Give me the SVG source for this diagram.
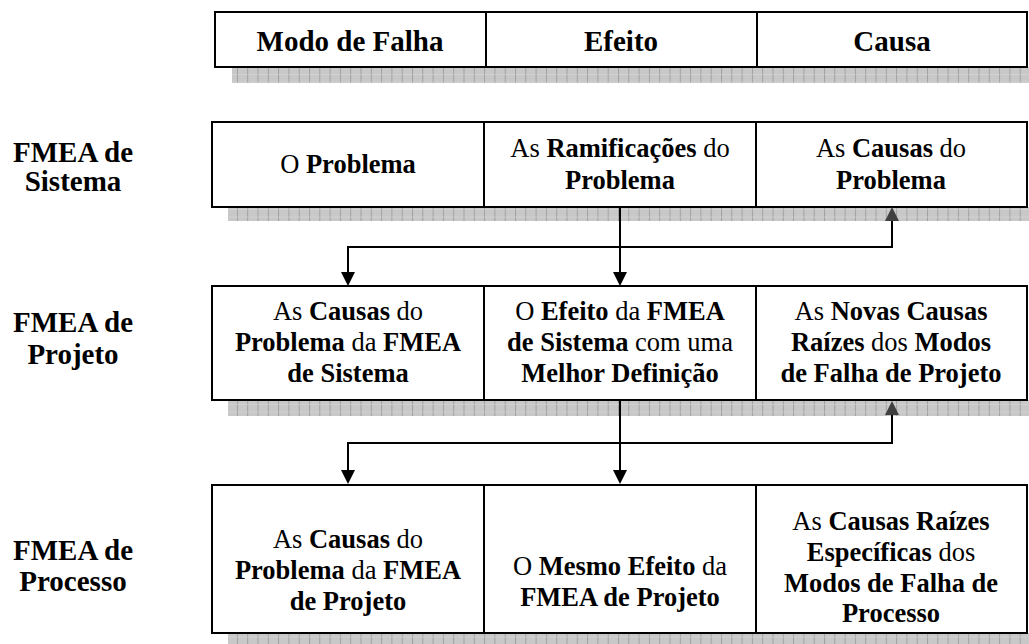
<svg xmlns="http://www.w3.org/2000/svg" width="1029" height="644" viewBox="0 0 1029 644">
<style>
text{font-family:"Liberation Serif","Times New Roman",serif;font-size:26.5px;fill:#000;text-anchor:middle}
.h{font-size:29px;font-weight:bold}
.b{font-weight:bold}
.box{fill:#fff;stroke:#000;stroke-width:2}
.div{stroke:#000;stroke-width:2}
.shadow{fill:url(#grid)}
.conn{fill:none;stroke:#000;stroke-width:2}
</style>
<defs>
<pattern id="grid" patternUnits="userSpaceOnUse" width="10.3" height="7.5">
<rect width="10.3" height="7.5" fill="#c8c8c8"/>
<line x1="0.5" y1="0" x2="0.5" y2="7.5" stroke="#a0a0a0" stroke-width="1"/>
<line x1="0" y1="7.2" x2="10.3" y2="7.2" stroke="#dadada" stroke-width="0.6"/>
</pattern>
</defs>

<g id="header">
<rect class="shadow" x="232" y="67" width="797" height="16"/>
<rect class="box" x="215" y="12" width="812" height="55"/>
<line class="div" x1="486" y1="12" x2="486" y2="67"/>
<line class="div" x1="757" y1="12" x2="757" y2="67"/>
<text class="h" x="350" y="51">Modo de Falha</text>
<text class="h" x="621" y="51">Efeito</text>
<text class="h" x="892" y="51">Causa</text>
</g>

<g id="row-sistema">
<text class="h" x="73" y="162">FMEA de</text>
<text class="h" x="73" y="191">Sistema</text>
<rect class="shadow" x="228" y="207" width="801" height="14"/>
<rect class="box" x="212" y="122" width="815" height="85"/>
<line class="div" x1="484" y1="122" x2="484" y2="207"/>
<line class="div" x1="756" y1="122" x2="756" y2="207"/>
<text x="348" y="173">O <tspan class="b">Problema</tspan></text>
<text x="620" y="157">As <tspan class="b">Ramificações</tspan> do</text>
<text x="620" y="189" class="b">Problema</text>
<text x="891" y="157">As <tspan class="b">Causas</tspan> do</text>
<text x="891" y="189" class="b">Problema</text>
</g>

<g id="row-projeto">
<text class="h" x="73" y="332">FMEA de</text>
<text class="h" x="73" y="364">Projeto</text>
<rect class="shadow" x="228" y="400" width="801" height="16"/>
<rect class="box" x="212" y="286" width="815" height="114"/>
<line class="div" x1="484" y1="286" x2="484" y2="400"/>
<line class="div" x1="756" y1="286" x2="756" y2="400"/>
<text x="348" y="320">As <tspan class="b">Causas</tspan> do</text>
<text x="348" y="351"><tspan class="b">Problema</tspan> da <tspan class="b">FMEA</tspan></text>
<text x="348" y="382" class="b">de Sistema</text>
<text x="620" y="320">O <tspan class="b">Efeito</tspan> da <tspan class="b">FMEA</tspan></text>
<text x="620" y="351"><tspan class="b">de Sistema</tspan> com uma</text>
<text x="620" y="382" class="b">Melhor Definição</text>
<text x="891" y="320">As <tspan class="b">Novas Causas</tspan></text>
<text x="891" y="351"><tspan class="b">Raízes</tspan> dos <tspan class="b">Modos</tspan></text>
<text x="891" y="382" class="b">de Falha de Projeto</text>
</g>

<g id="row-processo">
<text class="h" x="73" y="560">FMEA de</text>
<text class="h" x="73" y="591">Processo</text>
<rect class="shadow" x="228" y="633" width="801" height="11"/>
<rect class="box" x="212" y="485" width="815" height="148"/>
<line class="div" x1="484" y1="485" x2="484" y2="633"/>
<line class="div" x1="756" y1="485" x2="756" y2="633"/>
<text x="348" y="548">As <tspan class="b">Causas</tspan> do</text>
<text x="348" y="579"><tspan class="b">Problema</tspan> da <tspan class="b">FMEA</tspan></text>
<text x="348" y="610" class="b">de Projeto</text>
<text x="620" y="575">O <tspan class="b">Mesmo Efeito</tspan> da</text>
<text x="620" y="606" class="b">FMEA de Projeto</text>
<text x="891" y="530">As <tspan class="b">Causas Raízes</tspan></text>
<text x="891" y="561"><tspan class="b">Específicas</tspan> dos</text>
<text x="891" y="592" class="b">Modos de Falha de</text>
<text x="891" y="622" class="b">Processo</text>
</g>

<g id="connectors">
<path class="conn" d="M620,207 V273"/>
<path class="conn" d="M348,273 V247 H892 V221"/>
<path d="M613,272 L627,272 L620,286 Z" fill="#000"/>
<path d="M341,272 L355,272 L348,286 Z" fill="#000"/>
<path d="M885,221 L899,221 L892,207 Z" fill="#404040"/>
<path class="conn" d="M620,400 V471"/>
<path class="conn" d="M348,471 V443 H892 V414"/>
<path d="M613,470 L627,470 L620,484 Z" fill="#000"/>
<path d="M341,470 L355,470 L348,484 Z" fill="#000"/>
<path d="M885,415 L899,415 L892,401 Z" fill="#404040"/>
</g>
</svg>
